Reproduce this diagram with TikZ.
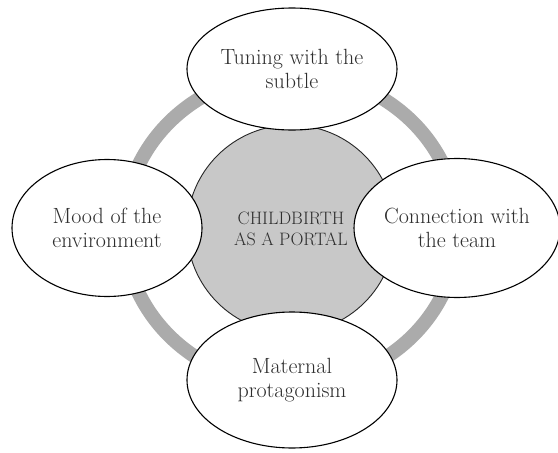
\documentclass[tikz,border=0pt]{standalone}
\usetikzlibrary{shapes.geometric}
\definecolor{ringgray}{HTML}{ABABAB}
\definecolor{hubgray}{HTML}{C8C8C8}
\definecolor{txt}{HTML}{2E2E2E}
\begin{document}
\begin{tikzpicture}[x=1pt,y=-1pt,
  petal/.style={ellipse, draw=black, line width=1.1pt, fill=white, inner sep=0pt,
    align=center, text=txt, font=\fontsize{22}{23.5}\selectfont},
  hub/.style={circle, draw=black!85, line width=0.9pt, fill=hubgray, inner sep=0pt,
    align=center, text=txt, font=\fontsize{18}{21}\selectfont}]
\useasboundingbox (0,0) rectangle (558,453);
\fill[white] (0,0) rectangle (558,453);
\coordinate (o) at (291,229);
\draw[ringgray, line width=14pt] (o) ellipse [x radius=167, y radius=156];
\node[hub, minimum size=208pt] (c) at (o) {CHILDBIRTH\\AS A PORTAL};
\node[petal, minimum width=210pt, minimum height=122pt] (t) at (292,69) {Tuning with the\\subtle};
\node[petal, minimum width=190pt, minimum height=137pt] (l) at (107,228) {Mood of the\\environment};
\node[petal, minimum width=200pt, minimum height=139pt] (r) at (457,228) {Connection with\\the team};
\node[petal, minimum width=210pt, minimum height=136pt] (b) at (292,380) {Maternal\\protagonism};
\end{tikzpicture}
\end{document}
